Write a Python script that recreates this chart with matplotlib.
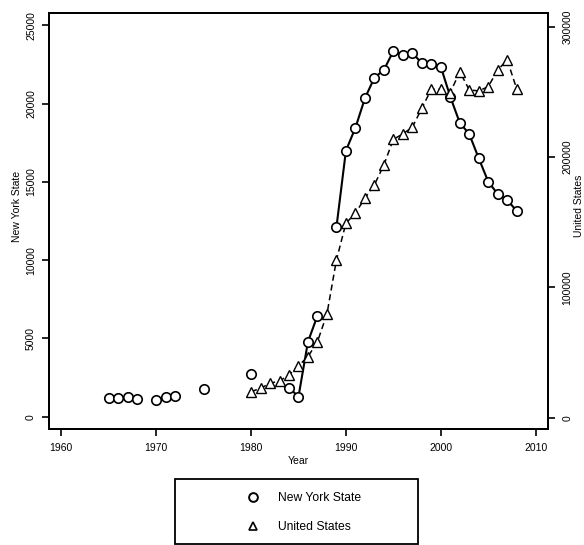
import numpy as np
import matplotlib
matplotlib.use("Agg")
import matplotlib.pyplot as plt
from matplotlib.lines import Line2D
from matplotlib.patches import Rectangle

plt.rcParams['font.family'] = ['Liberation Sans', 'DejaVu Sans']

# New York State (left axis); NaN = missing year
ny_years = [1965, 1966, 1967, 1968, 1969, 1970, 1971, 1972, 1973, 1974, 1975,
            1976, 1977, 1978, 1979, 1980, 1981, 1982, 1983, 1984, 1985, 1986,
            1987, 1988, 1989, 1990, 1991, 1992, 1993, 1994, 1995, 1996, 1997,
            1998, 1999, 2000, 2001, 2002, 2003, 2004, 2005, 2006, 2007, 2008]
ny_values = [1180, 1200, 1240, 1110, np.nan, 1070, 1240, 1340, np.nan, np.nan, 1750,
             np.nan, np.nan, np.nan, np.nan, 2700, np.nan, np.nan, np.nan, 1850, 1280, 4790,
             6450, np.nan, 12100, 16990, 18450, 20330, 21650, 22140, 23350, 23100, 23240,
             22570, 22500, 22350, 20430, 18770, 18050, 16500, 15010, 14220, 13840, 13140]

# United States (right axis)
us_years = [1980, 1981, 1982, 1983, 1984, 1985, 1986, 1987, 1988, 1989, 1990,
            1991, 1992, 1993, 1994, 1995, 1996, 1997, 1998, 1999, 2000, 2001,
            2002, 2003, 2004, 2005, 2006, 2007, 2008]
us_values = [19950, 22560, 26400, 28170, 32770, 39900, 46800, 58330, 79590, 121000, 149200,
             156900, 168400, 178600, 193900, 213600, 217700, 222900, 237400, 252000, 252000, 249400,
             265500, 251500, 250700, 254000, 266800, 274500, 252300]

x_ticks = [1960, 1970, 1980, 1990, 2000, 2010]
left_ticks = [0, 5000, 10000, 15000, 20000, 25000]
right_ticks = [0, 100000, 200000, 300000]

FS = 7.5
LFS = 8.7
fig = plt.figure(figsize=(5.84, 5.45), dpi=100)
W, H = 584, 545
ax = fig.add_axes([48.5 / W, 1 - 429 / H, (548 - 48.5) / W, (429 - 13) / H])
ax2 = ax.twinx()

ax.plot(ny_years, ny_values, color='black', lw=1.5, marker='o', ms=6.8,
        mfc='white', mec='black', mew=1.2, zorder=3)
ax2.plot(us_years, us_values, color='black', lw=1.1, dashes=(4, 2.5), marker='^',
         ms=6.8, mfc='white', mec='black', mew=1.0, zorder=3)

ax.set_xlim(1958.65, 2011.3)
ax.set_ylim(-785, 25780)
ax2.set_ylim(-8670, 310500)

ax.set_xticks(x_ticks)
ax.set_yticks(left_ticks)
ax2.set_yticks(right_ticks)
ax.set_yticklabels([str(v) for v in left_ticks], rotation=90, va='center')
ax2.set_yticklabels([str(v) for v in right_ticks], rotation=90, va='center')

for a in (ax, ax2):
    for s in a.spines.values():
        s.set_linewidth(1.4)
ax.tick_params(axis='x', direction='out', length=5, width=1.2, labelsize=FS, pad=5)
ax.tick_params(axis='y', direction='out', length=5, width=1.2, labelsize=FS, pad=4)
ax2.tick_params(axis='y', direction='out', length=5, width=1.2, labelsize=FS, pad=5.5)

ax.set_xlabel('Year', fontsize=FS, labelpad=2)
ax.set_ylabel('New York State', fontsize=FS, labelpad=3, y=0.536)
ax2.set_ylabel('United States', fontsize=FS, labelpad=1, y=0.536)

# legend below the plot
fig.patches.append(Rectangle((175 / W, 1 - 544 / H), (418 - 175) / W, (544 - 479) / H,
                             transform=fig.transFigure, fill=False, lw=1.3,
                             edgecolor='black'))
handles = [Line2D([], [], ls='none', marker='o', ms=6.3, mfc='white', mec='black', mew=1.4),
           Line2D([], [], ls='none', marker='^', ms=6.3, mfc='white', mec='black', mew=1.2)]
fig.legend(handles, ['New York State', 'United States'], frameon=False, loc='center',
           bbox_to_anchor=(304 / W, 1 - 512.8 / H), fontsize=LFS, handlelength=1.0,
           handletextpad=1.57, labelspacing=1.4, borderpad=0)

fig.savefig('out.png', dpi=100)
